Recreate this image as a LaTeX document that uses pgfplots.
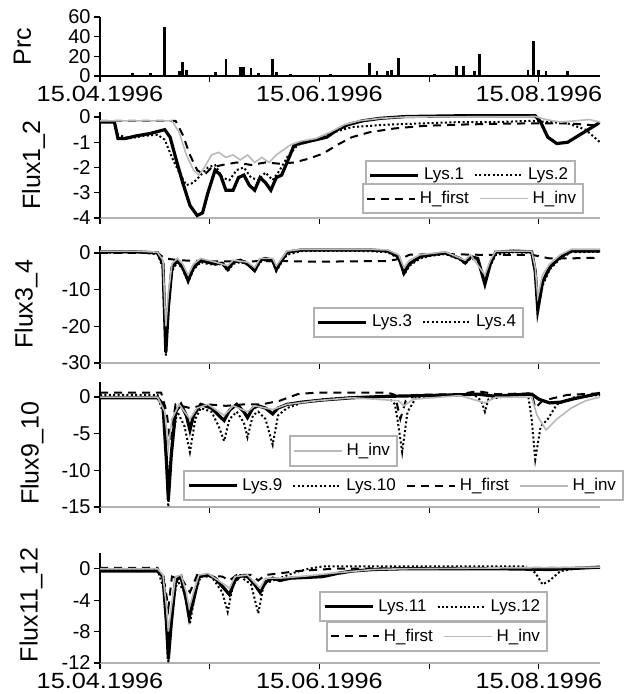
\documentclass[border=0pt]{standalone}
\usepackage{fontspec}
\setmainfont{Liberation Sans}
\usepackage{pgfplots}
\pgfplotsset{compat=1.18}

\pgfplotsset{
  panel/.style={
    scale only axis, width=250pt, xmin=0, xmax=139,
    axis lines=left, axis line style={-, line width=0.8pt},
    tick align=outside, major tick length=3pt,
    tick style={black, line width=0.6pt},
    xtick={0,30.5,61,91.5,122},
    xticklabels={,,,,},
    yticklabel style={font=\fontsize{10}{12}\selectfont, inner sep=0.5pt, xshift=-1pt},
    xticklabel style={font=\fontsize{11}{13}\selectfont, xscale=1.15, inner sep=1pt, yshift=-1pt},
    ylabel style={font=\fontsize{12.5}{14}\selectfont, anchor=center},
  },
  flux/.style={x axis line style={gray!60, line width=1.2pt}},
  leg/.style={
    legend style={draw=gray!60, line width=1pt, fill=white,
      font=\fontsize{8.5}{9.5}\selectfont, inner sep=1.5pt,
      /tikz/every even column/.append style={column sep=3pt}},
    legend image code/.code={\draw[##1] (0pt,0pt) -- (24pt,0pt);},
  },
  lys/.style={black, line width=1.6pt},
  dots/.style={black, line width=1pt, dash pattern=on 1pt off 1.2pt},
  hfirst/.style={black, line width=1pt, dash pattern=on 4pt off 3pt},
  hinv/.style={gray!55, line width=0.8pt},
}

\begin{document}
\begin{tikzpicture}
\useasboundingbox (0,0) rectangle (313pt,347pt);

% ---------- Prc ----------
\begin{axis}[panel, at={(50pt,309pt)}, anchor=south west, height=29.5pt,
  ymin=0, ymax=60, ytick={0,20,40,60}, yticklabels={0,20,40,60},
  xticklabels={15.04.1996,,15.06.1996,,15.08.1996},
  ylabel={Prc}, ylabel style={at={(axis description cs:-0.155,0.5)}}]
\addplot[ycomb, black, line width=1.4pt] coordinates {
(3,1)(9,3)(14,3)(18,50)(22,5)(23,14.5)(24,6)(28,1)(32,4)(35,17)(39,9)(40,9)(42,8)(44,3)
(48,17)(49,4)(53,2)(58,1)(64,2)(70,1)(75,13.5)(77,5)(80,5)(81,6)(83,18)(88,1)(93,2)
(99,10)(101,10)(104,5)(105.5,22)(112,1)(119,6)(120.5,36)(122,6)(124,5)(130,5)(135,1)};
\end{axis}

% ---------- Flux1_2 ----------
\begin{axis}[panel, flux, leg, at={(50pt,238pt)}, anchor=south west, height=53pt,
  ymin=-4, ymax=0.2, ytick={-4,-3,-2,-1,0}, yticklabels={-4,-3,-2,-1,0},
  ylabel={Flux1\_2}, ylabel style={at={(axis description cs:-0.133,0.5)}},
  legend columns=2, legend style={at={(0.952,0.547)}, anchor=north east}]
\addplot[hfirst, forget plot] coordinates {
(0,-0.15)(21,-0.15)(23,-0.7)(25,-1.5)(27,-2.1)(29,-2.3)(31,-2.0)(34,-1.9)(38,-1.8)(42,-1.9)
(46,-1.8)(50,-1.85)(54,-1.8)(58,-1.65)(62,-1.45)(66,-1.1)(70,-0.8)(75,-0.6)(82,-0.45)
(90,-0.35)(100,-0.3)(110,-0.27)(120,-0.25)(130,-0.25)(135,-0.3)(139,-0.35)};
\addplot[lys] coordinates {
(0,-0.2)(4,-0.2)(5,-0.85)(7,-0.85)(10,-0.75)(14,-0.65)(18,-0.5)(19.5,-0.8)(21,-1.6)(23,-2.6)
(25,-3.5)(27,-3.9)(28.5,-3.8)(30,-3.0)(32,-2.1)(33.5,-2.3)(35,-2.9)(37,-2.9)(38.5,-2.4)
(40,-2.3)(41.5,-2.7)(43,-2.9)(44.5,-2.4)(46,-2.6)(47.5,-2.9)(49,-2.4)(50.5,-2.3)(52,-1.8)
(54,-1.1)(57,-1.0)(60,-0.9)(63,-0.8)(66,-0.5)(69,-0.3)(73,-0.15)(78,-0.05)(85,0.02)
(100,0.05)(110,0.05)(121,0.05)(122.5,-0.2)(124.5,-0.8)(127,-1.05)(130,-1.0)(134,-0.65)
(138,-0.3)(139,-0.2)};
\addlegendentry{Lys.1}
\addplot[dots] coordinates {
(0,-0.2)(4,-0.2)(5,-0.7)(8,-0.85)(12,-0.75)(16,-0.7)(18,-0.9)(20,-1.6)(22,-2.2)(24,-2.7)
(26,-2.6)(28,-2.3)(30,-2.0)(32,-1.9)(34,-2.4)(36,-2.5)(38,-2.1)(40,-2.0)(42,-2.4)(44,-2.5)
(46,-2.2)(48,-2.5)(50,-2.1)(52,-1.6)(55,-1.1)(60,-0.9)(65,-0.6)(70,-0.4)(80,-0.3)(90,-0.25)
(100,-0.2)(110,-0.2)(120,-0.15)(125,-0.2)(130,-0.25)(135,-0.5)(139,-1.0)};
\addlegendentry{Lys.2}
\addplot[hinv, forget plot] coordinates {
(0,-0.15)(20,-0.15)(22,-0.6)(24,-1.5)(26,-2.1)(27.5,-2.3)(29,-2.0)(31,-1.5)(33,-1.4)
(35,-1.6)(37,-1.5)(39,-1.7)(41,-1.5)(43,-1.8)(45,-1.6)(47,-1.8)(49,-1.5)(51,-1.3)(53,-1.1)
(56,-0.95)(60,-0.85)(64,-0.6)(68,-0.3)(72,-0.15)(78,-0.05)(85,0)(121,0.02)(124,-0.1)
(128,-0.2)(132,-0.15)(136,-0.1)(139,-0.2)};
\end{axis}
\begin{axis}[panel, leg, hide axis, at={(50pt,238pt)}, anchor=south west, height=53pt,
  ymin=-4, ymax=0.2, legend columns=2, legend style={at={(0.968,0.33)}, anchor=north east}]
\addlegendimage{hfirst}\addlegendentry{H\_first}
\addlegendimage{hinv}\addlegendentry{H\_inv}
\end{axis}

% ---------- Flux3_4 ----------
\begin{axis}[panel, flux, leg, at={(50pt,165.5pt)}, anchor=south west, height=58.7pt,
  ymin=-30, ymax=2, ytick={-30,-20,-10,0}, yticklabels={-30,-20,-10,0},
  ylabel={Flux3\_4}, ylabel style={at={(axis description cs:-0.148,0.5)}},
  legend columns=2, legend style={at={(0.848,0.477)}, anchor=north east}]
\addplot[hfirst, forget plot] coordinates {
(0,0)(16,0)(18,-1.5)(22,-2)(30,-2.3)(40,-2.3)(50,-2.2)(60,-2.4)(70,-2.3)(80,-2.2)(84,-1.5)
(86,-0.5)(95,-0.3)(105,-0.5)(115,-0.5)(120,-0.5)(125,-1.5)(130,-1.5)(139,-1.3)};
\addplot[lys] coordinates {
(0,0.3)(10,0.3)(16,0)(17.5,-3)(18.3,-27)(19,-15)(20,-4)(21.5,-2)(23,-4)(24.5,-7.5)(26,-4)
(28,-2)(30,-2.5)(32,-3)(34,-2.8)(35.5,-4.5)(37,-2.5)(39,-2)(41,-3)(43,-4.8)(44.5,-2)(46,-1.5)
(48,-2)(49,-4.5)(50.5,-2)(52,0.2)(56,0.8)(65,0.8)(75,0.8)(80,0.5)(83,-1)(84.5,-5.5)(86,-3)
(89,-1)(92,-0.5)(96,0)(100,-1.5)(101.5,-2.7)(103,-1)(105,-1.5)(107,-8.5)(108.5,-3)(110,0.2)
(115,0.5)(120,0.3)(121,-5)(121.7,-15.5)(123,-8)(125,-4)(128,-1)(131,0.5)(139,0.5)};
\addlegendentry{Lys.3}
\addplot[dots] coordinates {
(0,0)(10,0.2)(16,-0.3)(17.5,-4)(18.3,-28)(19,-14)(20,-5)(21.5,-2.5)(23,-4.5)(24.5,-8)(26,-4.5)
(28,-2.5)(30,-3)(32,-3.2)(34,-3)(35.5,-5)(37,-3)(39,-2.5)(41,-3.2)(43,-5)(44.5,-2.5)(46,-2)
(48,-2.5)(49,-5)(50.5,-2.5)(52,-0.5)(56,0.5)(65,0.6)(75,0.5)(80,0.2)(83,-1.5)(84.5,-6)(86,-3.5)
(89,-1.5)(92,-0.8)(96,-0.3)(100,-1.8)(101.5,-3)(103,-1.5)(105,-2)(107,-8)(108.5,-3.5)(110,-0.5)
(115,0.2)(120,0)(121,-6)(121.7,-16)(123,-9)(125,-4.5)(128,-1.5)(131,0.2)(139,0.3)};
\addlegendentry{Lys.4}
\addplot[hinv, forget plot] coordinates {
(0,0.5)(10,0.5)(16,0.2)(17.5,-2)(18.3,-20)(19,-11)(20,-3)(21.5,-1.5)(23,-3)(24.5,-6)(26,-3)
(28,-1.5)(32,-2.5)(35.5,-3.5)(37,-2)(41,-2.5)(43,-4)(44.5,-1.5)(48,-1.5)(49,-3.5)(50.5,-1.5)
(52,0.5)(56,1)(75,1)(80,0.8)(83,-0.5)(84.5,-4)(86,-2)(89,-0.5)(96,0.3)(101.5,-2)(103,-0.5)
(107,-6)(108.5,-2)(110,0.5)(120,0.5)(121,-4)(121.7,-12)(123,-6)(125,-3)(128,-0.5)(131,1)(139,1)};
\end{axis}

% ---------- Flux9_10 ----------
\begin{axis}[panel, flux, leg, at={(50pt,93.5pt)}, anchor=south west, height=62.3pt,
  ymin=-15, ymax=2, ytick={-15,-10,-5,0}, yticklabels={-15,-10,-5,0},
  ylabel={Flux9\_10}, ylabel style={at={(axis description cs:-0.136,0.43)}},
  legend columns=4, legend style={at={(1.048,0.296)}, anchor=north east}]
\addplot[lys] coordinates {
(0,-0.1)(16,-0.1)(17.5,-1)(18.5,-9)(19,-14)(19.8,-8)(21,-2)(22.5,-1)(24,-2.5)(25,-4.5)(26,-2.5)
(28,-1)(31,-1.5)(33,-2.5)(34.5,-3.2)(36,-1.8)(38,-1)(40,-2)(41,-2.8)(42.5,-1.5)(44,-1.2)
(46,-1.5)(48,-2.3)(49.5,-1.5)(52,-1)(56,-0.7)(62,-0.4)(70,-0.1)(80,0.1)(90,0.2)(100,0.3)
(105,0.4)(110,0.1)(115,0.3)(120,0.4)(122,-0.3)(125,-0.8)(128,-0.7)(132,-0.2)(139,0.5)};
\addlegendentry{Lys.9}
\addplot[dots] coordinates {
(0,0.3)(16,0.3)(18,-3)(19,-15)(20,-6)(21.5,-2)(23.5,-4)(25,-7.5)(26.5,-3)(28,-1.5)(31,-2)
(33,-4)(34.5,-6)(36,-3)(38,-2)(40,-3.5)(41,-5.5)(42.5,-2.5)(44,-2)(46,-3)(48,-6.5)(49.5,-2.5)
(52,-1.5)(56,-0.8)(62,-0.3)(70,0)(80,0.1)(82,-1)(83,-4)(84,-7.5)(85.5,-2)(88,0)(95,0.2)
(100,0.4)(104,0.3)(106,-0.5)(107,-2)(108,-0.3)(115,0.3)(119,0.3)(120,-3)(121,-8.5)
(122.5,-4)(124.5,-3)(127,-1)(132,0)(139,0.3)};
\addlegendentry{Lys.10}
\addplot[hfirst] coordinates {
(0,0.6)(17,0.6)(18.5,-2)(19.5,-6)(21,-1)(25,-1.5)(30,-1)(35,-1.2)(40,-1)(45,-1)(50,-0.5)
(55,0.4)(60,0.6)(80,0.6)(82,0.3)(83.5,-3)(85,-0.5)(88,0.3)(100,0.4)(105,0.8)(110,0.4)
(120,0.5)(121,-1.5)(123,-0.5)(130,0.3)(139,0.5)};
\addlegendentry{H\_first}
\addplot[hinv] coordinates {
(0,0)(16,0)(18,-2)(19,-7)(20,-3)(22,-1)(25,-3)(27,-1.5)(30,-1)(34.5,-2.5)(37,-1.2)(41,-2)
(43,-1.2)(48,-1.7)(52,-1)(60,-0.5)(70,-0.1)(83,-0.5)(84.5,-1.2)(87,-0.3)(100,0.2)(107,-0.8)
(110,0)(120,0)(121.5,-2.5)(124,-4.5)(127,-3)(131,-1.5)(135,-0.5)(139,0)};
\addlegendentry{H\_inv}
\end{axis}
\begin{axis}[panel, leg, hide axis, at={(50pt,93.5pt)}, anchor=south west, height=62.3pt,
  ymin=-15, ymax=2, legend style={at={(0.596,0.576)}, anchor=north east}]
\addlegendimage{hinv}\addlegendentry{H\_inv}
\end{axis}

% ---------- Flux11_12 ----------
\begin{axis}[panel, flux, leg, at={(50pt,15.5pt)}, anchor=south west, height=55pt,
  ymin=-12, ymax=2, ytick={-12,-8,-4,0}, yticklabels={-12,-8,-4,0},
  xticklabels={15.04.1996,,15.06.1996,,15.08.1996},
  ylabel={Flux11\_12}, ylabel style={at={(axis description cs:-0.138,0.53)}},
  legend columns=2, legend style={at={(0.896,0.652)}, anchor=north east}]
\addplot[hfirst, forget plot] coordinates {
(0,0.1)(16,0.1)(18,-2)(19,-5)(20,-1)(23,-1.5)(25,-3)(27,-0.8)(34,-1)(36,-1.5)(38,-0.8)
(42,-0.8)(44,-1.5)(46,-0.8)(55,-0.3)(65,0)(100,0.1)(139,0.1)};
\addplot[lys] coordinates {
(0,-0.3)(16,-0.3)(17.5,-1)(18.5,-7)(19,-11.5)(19.8,-7)(21,-1.5)(22.5,-1)(24,-4)(24.8,-6.2)
(26,-4)(27.5,-1)(30,-0.8)(32,-1.2)(34.5,-2.5)(36,-3.3)(37.5,-1.5)(39,-0.9)(41,-1)(43,-2)
(44.5,-3)(46,-1.7)(48,-1.2)(50,-1.5)(53,-1.2)(58,-1.1)(62,-1)(66,-0.6)(70,-0.3)(76,-0.1)
(85,0)(110,0)(125,-0.1)(130,0)(139,0.2)};
\addlegendentry{Lys.11}
\addplot[dots] coordinates {
(0,-0.1)(16,-0.1)(18,-3)(19,-12)(20,-5)(21.5,-1.5)(23.5,-3)(25,-7)(26.5,-3)(28,-1)(31,-1)
(34,-3)(35.5,-5.5)(37,-2)(39,-1)(42,-2)(44,-5.7)(45.5,-2)(48,-1.5)(50,-1.2)(54,-0.5)(58,0)
(62,0.3)(80,0.3)(100,0.3)(118,0.3)(121,-0.5)(123,-2.0)(125,-1.5)(128,-0.3)(132,0)(139,0.2)};
\addlegendentry{Lys.12}
\addplot[hinv, forget plot] coordinates {
(0,0)(16,0)(17.5,-0.8)(18.5,-5)(19,-8)(19.8,-5)(21,-1)(22.5,-0.8)(24,-3)(24.8,-5)(26,-3)
(27.5,-0.8)(30,-0.6)(34.5,-2)(36,-2.5)(37.5,-1)(41,-0.8)(44.5,-2.5)(46,-1.2)(50,-1.2)
(58,-0.9)(66,-0.5)(76,-0.1)(85,0)(139,0.2)};
\end{axis}
\begin{axis}[panel, leg, hide axis, at={(50pt,15.5pt)}, anchor=south west, height=55pt,
  ymin=-12, ymax=2, legend columns=2, legend style={at={(0.896,0.384)}, anchor=north east}]
\addlegendimage{hfirst}\addlegendentry{H\_first}
\addlegendimage{hinv}\addlegendentry{H\_inv}
\end{axis}
\end{tikzpicture}
\end{document}
